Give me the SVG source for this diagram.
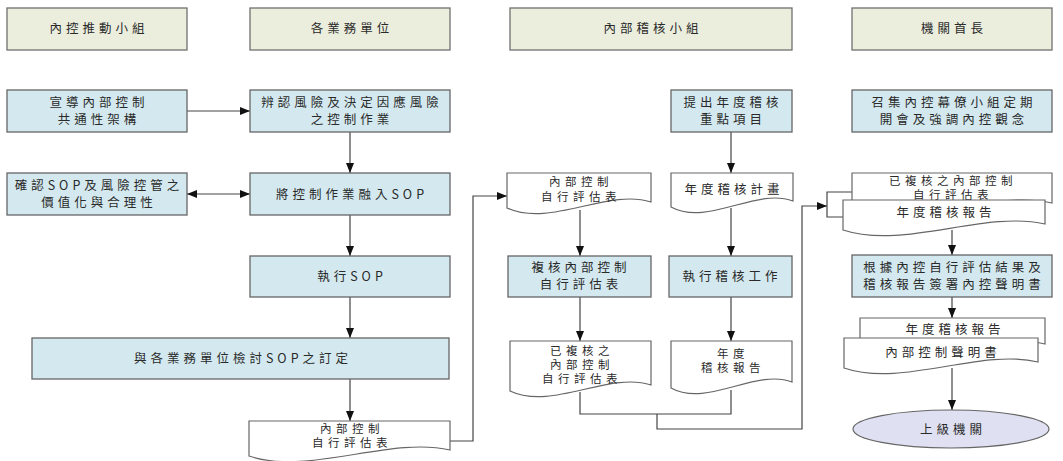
<svg xmlns="http://www.w3.org/2000/svg" width="1063" height="461" viewBox="0 0 1063 461">
<style>
.hd{fill:#ebeedd;stroke:#707070;stroke-width:1.3}
.pr{fill:#d4e9ef;stroke:#666;stroke-width:1.3}
.dc{fill:#fff;stroke:#666;stroke-width:1.2}
.el{fill:#dfe1f2;stroke:#666;stroke-width:1.2}
.t{font-family:"Noto Sans CJK TC","Noto Sans CJK SC",sans-serif;font-size:12.5px;fill:#2a2a2a;text-anchor:middle;letter-spacing:4px}
.s{font-size:11.5px;letter-spacing:4.5px}
.cn{fill:none;stroke:#444;stroke-width:1.2}
</style>
<defs>
<marker id="ah" markerWidth="10" markerHeight="8" refX="10" refY="4" orient="auto-start-reverse" markerUnits="userSpaceOnUse"><path d="M0,0 L10,4 L0,8 z" fill="#111"/></marker>
</defs>
<rect width="1063" height="461" fill="#fff"/>

<g id="connectors">
<path class="cn" d="M187,111 H250" marker-end="url(#ah)"/>
<path class="cn" d="M350,132 V173" marker-end="url(#ah)"/>
<path class="cn" d="M187,194 H250" marker-start="url(#ah)" marker-end="url(#ah)"/>
<path class="cn" d="M350,215 V256" marker-end="url(#ah)"/>
<path class="cn" d="M350,297 V338" marker-end="url(#ah)"/>
<path class="cn" d="M350,379 V421" marker-end="url(#ah)"/>
<path class="cn" d="M450,441 H473 V196 H507" marker-end="url(#ah)"/>
<path class="cn" d="M731,132 V173" marker-end="url(#ah)"/>
<path class="cn" d="M731,208 V256" marker-end="url(#ah)"/>
<path class="cn" d="M731,297 V341" marker-end="url(#ah)"/>
<path class="cn" d="M580,210 V256" marker-end="url(#ah)"/>
<path class="cn" d="M580,297 V341" marker-end="url(#ah)"/>
<path class="cn" d="M580,392 V414 H731 V390"/>
<path class="cn" d="M657,414 V429 H802 V206 H827" marker-end="url(#ah)"/>
<path class="cn" d="M852,192 H827 V217 H843"/>
<path class="cn" d="M952,230 V255" marker-end="url(#ah)"/>
<path class="cn" d="M952,297 V318" marker-end="url(#ah)"/>
<path class="cn" d="M952,368 V410" marker-end="url(#ah)"/>
</g>

<g id="h1"><rect class="hd" x="7" y="8" width="180" height="42"/><text class="t" x="99" y="33">內控推動小組</text></g>
<g id="h2"><rect class="hd" x="250" y="8" width="200" height="42"/><text class="t" x="352" y="33">各業務單位</text></g>
<g id="h3"><rect class="hd" x="510" y="8" width="282" height="42"/><text class="t" x="653" y="33">內部稽核小組</text></g>
<g id="h4"><rect class="hd" x="852" y="8" width="200" height="42"/><text class="t" x="954" y="33">機關首長</text></g>

<g id="n1"><rect class="pr" x="7" y="90" width="180" height="42"/><text class="t" x="99" y="107">宣導內部控制</text><text class="t" x="99" y="124">共通性架構</text></g>
<g id="n2"><rect class="pr" x="250" y="90" width="200" height="42"/><text class="t" x="352" y="107">辨認風險及決定因應風險</text><text class="t" x="352" y="124">之控制作業</text></g>
<g id="n3"><rect class="pr" x="671" y="90" width="121" height="42"/><text class="t" x="733" y="107">提出年度稽核</text><text class="t" x="733" y="124">重點項目</text></g>
<g id="n4"><rect class="pr" x="852" y="90" width="200" height="42"/><text class="t" x="954" y="107">召集內控幕僚小組定期</text><text class="t" x="954" y="124">開會及強調內控觀念</text></g>

<g id="n5"><rect class="pr" x="7" y="173" width="180" height="42"/><text class="t" x="99" y="190">確認SOP及風險控管之</text><text class="t" x="99" y="207">價值化與合理性</text></g>
<g id="n6"><rect class="pr" x="250" y="173" width="200" height="42"/><text class="t" x="352" y="199">將控制作業融入SOP</text></g>

<g id="n7"><rect class="pr" x="250" y="256" width="200" height="41"/><text class="t" x="352" y="281">執行SOP</text></g>
<g id="n8"><rect class="pr" x="32" y="338" width="417" height="41"/><text class="t" x="243" y="363">與各業務單位檢討SOP之訂定</text></g>

<g id="d1"><path class="dc" d="M249,421 H450 V450 C390,436 309,476 249,456 Z"/><text class="t s" x="352" y="433">內部控制</text><text class="t s" x="352" y="447">自行評估表</text></g>

<g id="d2"><path class="dc" d="M507,173 H651 V202 C608,188 550,228 507,208 Z"/><text class="t s" x="581" y="186">內部控制</text><text class="t s" x="581" y="201">自行評估表</text></g>
<g id="d3"><path class="dc" d="M671,173 H793 V201 C756,187 708,227 671,207 Z"/><text class="t" x="734" y="194">年度稽核計畫</text></g>

<g id="n9"><rect class="pr" x="508" y="256" width="143" height="41"/><text class="t" x="581" y="272">複核內部控制</text><text class="t" x="581" y="289">自行評估表</text></g>
<g id="n10"><rect class="pr" x="669" y="256" width="123" height="41"/><text class="t" x="732" y="281">執行稽核工作</text></g>

<g id="d4"><path class="dc" d="M510,341 H651 V385 C609,371 552,411 510,391 Z"/><text class="t s" x="582" y="355">已複核之</text><text class="t s" x="582" y="369">內部控制</text><text class="t s" x="582" y="383">自行評估表</text></g>
<g id="d5"><path class="dc" d="M671,341 H792 V382 C756,368 707,408 671,388 Z"/><text class="t s" x="733" y="358">年度</text><text class="t s" x="733" y="372">稽核報告</text></g>

<g id="d6"><path class="dc" d="M852,173 H1052 V203 C992,189 912,229 852,209 Z"/><text class="t s" x="953" y="185">已複核之內部控制</text><text class="t s" x="953" y="199">自行評估表</text></g>
<g id="d7"><path class="dc" d="M843,200 H1045 V224 C984,210 904,250 843,230 Z"/><text class="t" x="946" y="217">年度稽核報告</text></g>

<g id="n11"><rect class="pr" x="852" y="255" width="200" height="42"/><text class="t" x="954" y="272">根據內控自行評估結果及</text><text class="t" x="954" y="289">稽核報告簽署內控聲明書</text></g>

<g id="d8"><path class="dc" d="M860,318 H1045 V344 C990,330 915,370 860,350 Z"/><text class="t" x="955" y="334">年度稽核報告</text></g>
<g id="d9"><path class="dc" d="M844,338 H1038 V362 C980,348 902,388 844,368 Z"/><text class="t" x="943" y="357">內部控制聲明書</text></g>

<g id="e1"><ellipse class="el" cx="951" cy="429" rx="98" ry="19"/><text class="t" x="953" y="434">上級機關</text></g>
</svg>
